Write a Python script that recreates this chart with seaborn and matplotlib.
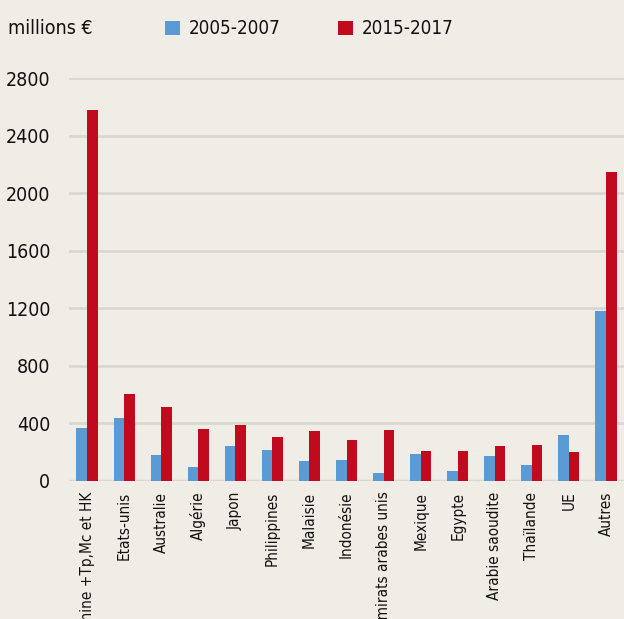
import matplotlib
matplotlib.use("Agg")
import matplotlib.pyplot as plt
import seaborn as sns
import pandas as pd

categories = ["Chine +Tp,Mc et HK", "Etats-unis", "Australie", "Algérie", "Japon",
              "Philippines", "Malaisie", "Indonésie", "Emirats arabes unis", "Mexique",
              "Egypte", "Arabie saoudite", "Thaïlande", "UE", "Autres"]
v2005 = [365, 434, 179, 91, 237, 214, 137, 142, 49, 186, 63, 172, 107, 314, 1183]
v2015 = [2577, 604, 514, 358, 383, 300, 342, 281, 353, 202, 207, 237, 246, 197, 2150]
series = ["2005-2007", "2015-2017"]
yticks = [0, 400, 800, 1200, 1600, 2000, 2400, 2800]

bg = "#F0EDE7"
colors = ["#5B9BD5", "#C00B1F"]

df = pd.DataFrame({
    "pays": categories * 2,
    "valeur": v2005 + v2015,
    "periode": [series[0]] * len(categories) + [series[1]] * len(categories),
})

sns.set_theme(style="white")
plt.rcParams["font.family"] = ["DejaVu Sans"]
plt.rcParams["font.stretch"] = "condensed"

fig = plt.figure(figsize=(6.24, 6.19), dpi=100, facecolor=bg)
ax = fig.add_axes([68.5 / 624, 138.5 / 619, 556 / 624, 402.2 / 619])
ax.set_facecolor(bg)

sns.barplot(data=df, x="pays", y="valeur", hue="periode", hue_order=series,
            palette=colors, width=0.57, gap=0, saturation=1, ax=ax,
            edgecolor="none", linewidth=0)

ax.set_xlim(-0.5, 14.5)
ax.set_ylim(0, 2800)
ax.set_yticks(yticks)
ax.set_yticklabels([str(t) for t in yticks], fontsize=14, color="#111111")
ax.grid(axis="y", color="#D9D8D3", linewidth=2)
ax.set_axisbelow(True)
for s in ["top", "right", "left", "bottom"]:
    ax.spines[s].set_visible(False)
ax.axhline(0, color="#D9D8D3", linewidth=2.5, zorder=0.5)
ax.tick_params(axis="y", length=0, pad=13)
ax.tick_params(axis="x", length=0, pad=8)
ax.set_xticks(range(len(categories)))
ax.set_xticklabels(categories, rotation=90, fontsize=11, color="#111111",
                   va="top", ha="center")
ax.set_xlabel("")
ax.set_ylabel("")

sns.move_legend(ax, loc="center left", bbox_to_anchor=(165 / 624, 1 - 29 / 619),
                bbox_transform=fig.transFigure, ncol=2, frameon=False, title=None,
                borderpad=0, borderaxespad=0,
                handlelength=0.8, handleheight=0.8, handletextpad=0.45,
                columnspacing=3.1, fontsize=13.5)
for t in ax.get_legend().get_texts():
    t.set_color("#111111")

fig.text(8 / 624, 1 - 29 / 619, "millions €", fontsize=14, color="#111111",
         ha="left", va="center")

fig.savefig("out.png", dpi=100, facecolor=bg)
